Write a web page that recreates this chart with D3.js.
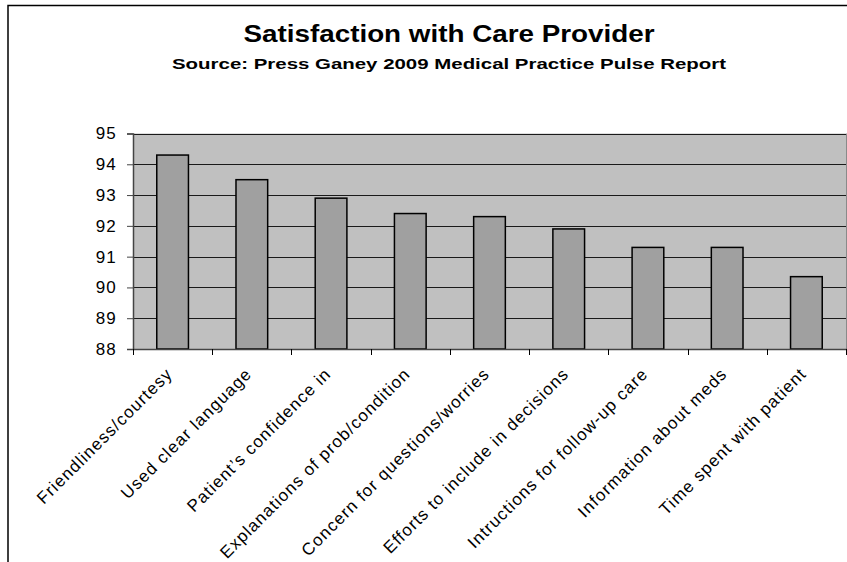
<!DOCTYPE html>
<html lang="en">
<head>
  <meta charset="UTF-8">
  <title>Satisfaction with Care Provider</title>
  <style>
    html, body {
      margin: 0;
      overflow: hidden;
      width: 100%;
      height: 100%;
      background: white;
    }
    svg {
      position: absolute;
      top: 0;
      left: 0;
      width: 847px;
      height: 562px;
      font-family: Arial, "Liberation Sans", sans-serif;
    }
  </style>
</head>
<body>
  <svg></svg>
</body>
<script src="https://d3js.org/d3.v7.min.js"></script>
<script type="text/javascript">
  const categories = [
    'Friendliness/courtesy',
    'Used clear language',
    'Patient\u2019s confidence in',
    'Explanations of prob/condition',
    'Concern for questions/worries',
    'Efforts to include in decisions',
    'Intructions for follow-up care',
    'Information about meds',
    'Time spent with patient'
  ]
  const scores = [94.3, 93.5, 92.9, 92.4, 92.3, 91.9, 91.3, 91.3, 90.35]
  const yTicks = [88, 89, 90, 91, 92, 93, 94, 95]

  const svg = d3.select('svg')
  const plot = { left: 133, right: 846, top: 133.5, bottom: 349 }

  // outer frame
  svg.append('path')
    .attr('d', `M 8,562 L 8,5.5 L 847,5.5`)
    .attr('fill', 'none')
    .attr('stroke', '#000')
    .attr('stroke-width', 1.5)

  // titles (glyphs stretched a bit wider, like the original render)
  svg.append('text')
    .attr('x', 449)
    .attr('y', 42)
    .attr('text-anchor', 'middle')
    .attr('font-size', 23.5)
    .attr('font-weight', 'bold')
    .attr('textLength', 411)
    .attr('lengthAdjust', 'spacingAndGlyphs')
    .text('Satisfaction with Care Provider')

  svg.append('text')
    .attr('x', 449)
    .attr('y', 68.5)
    .attr('text-anchor', 'middle')
    .attr('font-size', 15.5)
    .attr('font-weight', 'bold')
    .attr('textLength', 554)
    .attr('lengthAdjust', 'spacingAndGlyphs')
    .text('Source: Press Ganey 2009 Medical Practice Pulse Report')

  const x = d3.scaleBand()
    .domain(categories)
    .range([plot.left, plot.right])
    .paddingInner(0.6)
    .paddingOuter(0.3)

  const y = d3.scaleLinear()
    .domain([88, 95])
    .range([plot.bottom, plot.top])

  // plot background
  svg.append('rect')
    .attr('x', plot.left)
    .attr('y', plot.top)
    .attr('width', plot.right - plot.left)
    .attr('height', plot.bottom - plot.top)
    .attr('fill', '#c0c0c0')

  // gridlines
  svg.append('g')
    .selectAll('line')
    .data(yTicks.slice(1))
    .enter()
    .append('line')
    .attr('x1', plot.left)
    .attr('x2', plot.right)
    .attr('y1', d => Math.round(y(d)) + 0.5)
    .attr('y2', d => Math.round(y(d)) + 0.5)
    .attr('stroke', '#1a1a1a')
    .attr('stroke-width', 1.2)

  // right border of plot
  svg.append('line')
    .attr('x1', plot.right + 0.5)
    .attr('x2', plot.right + 0.5)
    .attr('y1', plot.top)
    .attr('y2', plot.bottom)
    .attr('stroke', '#8a8a8a')

  // bars
  svg.append('g')
    .selectAll('rect')
    .data(scores)
    .enter()
    .append('rect')
    .attr('x', (d, i) => x(categories[i]))
    .attr('y', d => y(d))
    .attr('width', x.bandwidth())
    .attr('height', d => y(88) - y(d))
    .attr('fill', '#a0a0a0')
    .attr('stroke', '#000')
    .attr('stroke-width', 1.5)

  // y axis
  const yAxis = svg.append('g')
    .attr('transform', `translate(${plot.left},0)`)
    .call(d3.axisLeft(y).tickValues(yTicks).tickSize(6).tickPadding(10).tickFormat(d3.format('d')))
  yAxis.select('.domain').attr('stroke', '#444').attr('stroke-width', 1.5)
  yAxis.selectAll('.tick line').attr('stroke', '#444')
  yAxis.selectAll('.tick text')
    .attr('font-size', 17)
    .attr('font-family', 'Arial, "Liberation Sans", sans-serif')
    .attr('letter-spacing', 1.2)
    .attr('fill', '#000')

  // x axis
  const step = x.step()
  const xAxis = svg.append('g')
  xAxis.append('line')
    .attr('x1', plot.left)
    .attr('x2', plot.right + 1)
    .attr('y1', plot.bottom + 0.5)
    .attr('y2', plot.bottom + 0.5)
    .attr('stroke', '#444')
    .attr('stroke-width', 1.5)
  xAxis.selectAll('line.tick')
    .data(d3.range(categories.length + 1))
    .enter()
    .append('line')
    .attr('class', 'tick')
    .attr('x1', i => Math.round(plot.left + i * step) + 0.5)
    .attr('x2', i => Math.round(plot.left + i * step) + 0.5)
    .attr('y1', plot.bottom)
    .attr('y2', plot.bottom + 6)
    .attr('stroke', '#000')

  xAxis.selectAll('text')
    .data(categories)
    .enter()
    .append('text')
    .attr('transform', d => `translate(${x(d) + x.bandwidth() / 2 + 1},${plot.bottom + 26}) rotate(-45)`)
    .attr('text-anchor', 'end')
    .attr('font-size', 17)
    .attr('letter-spacing', 1.1)
    .text(d => d)
</script>
</html>
